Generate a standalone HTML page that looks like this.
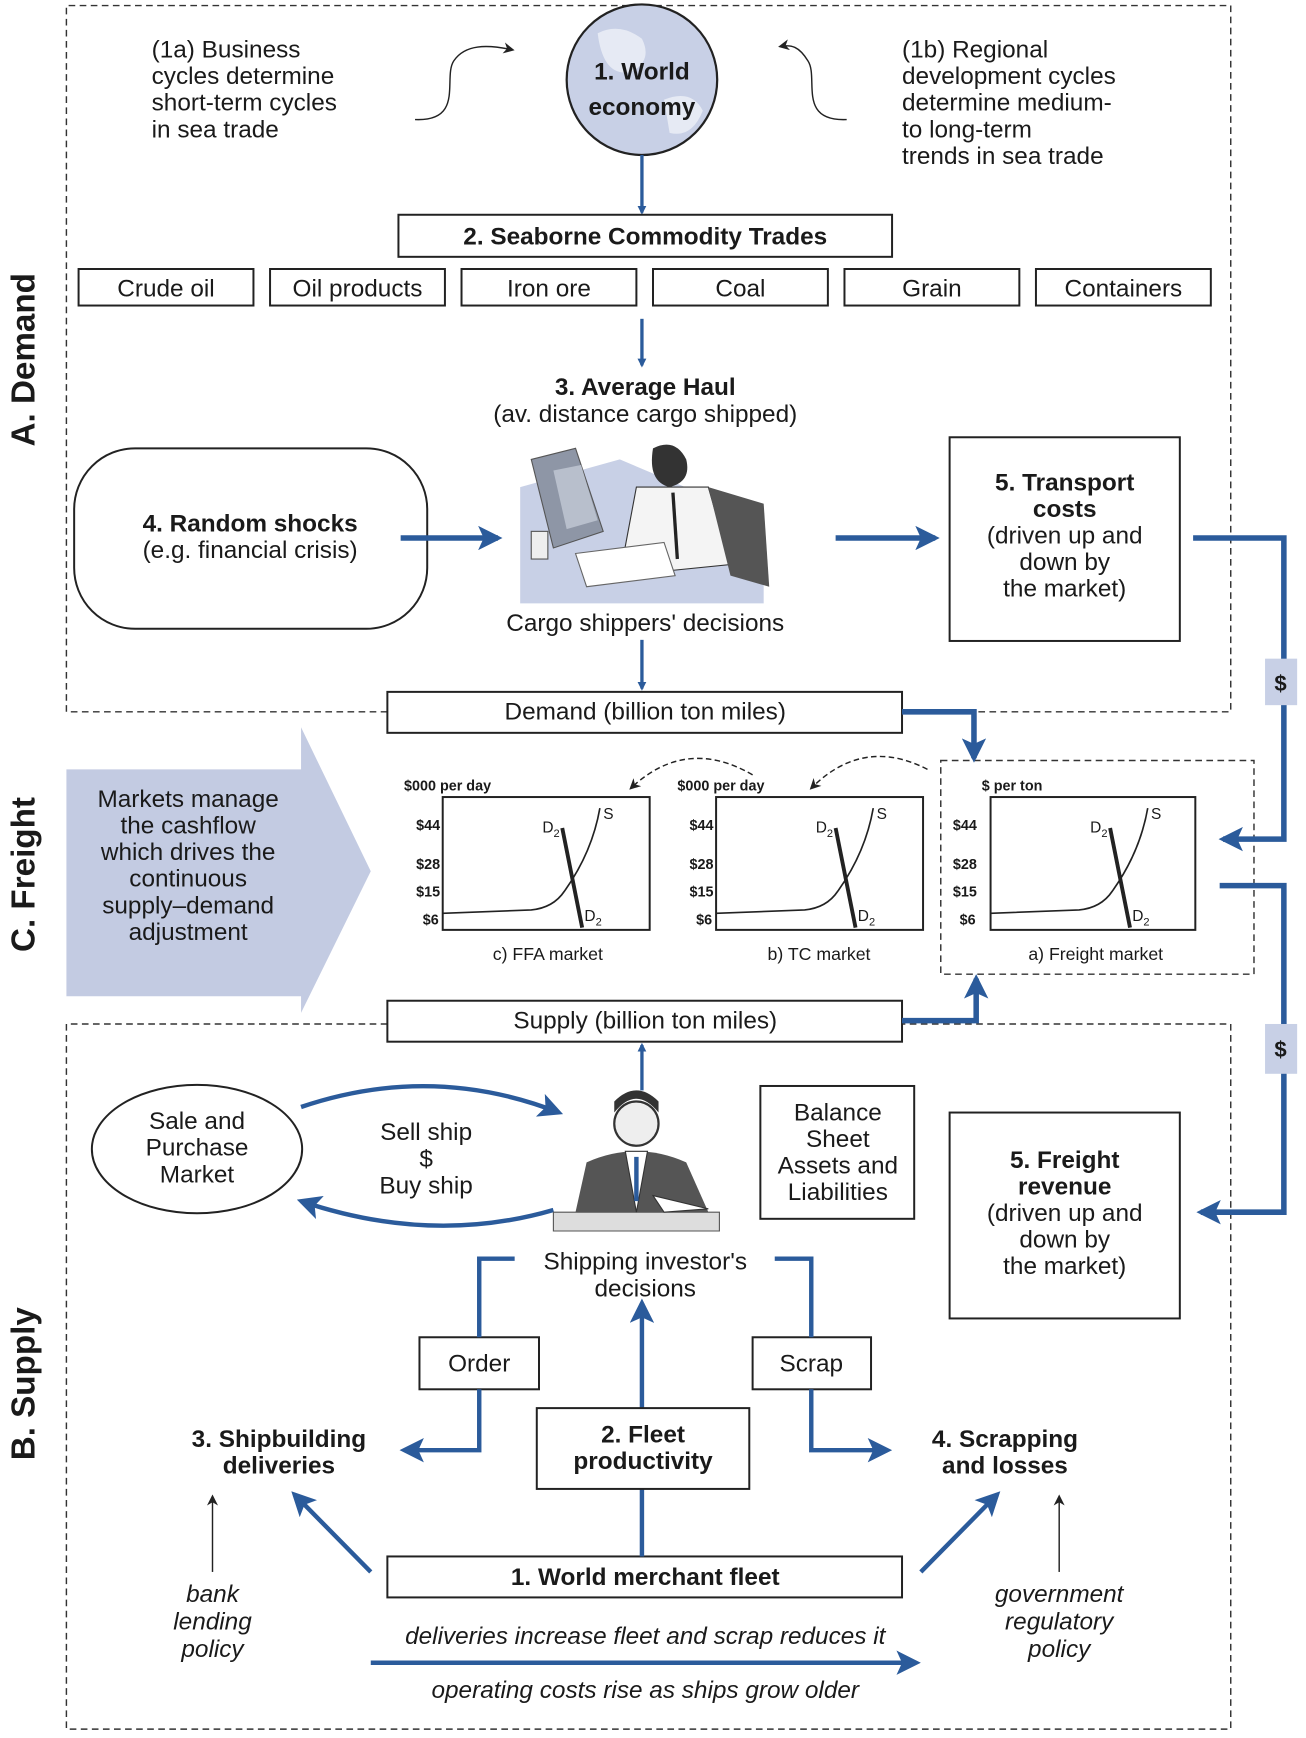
<!DOCTYPE html>
<html><head><meta charset="utf-8"><style>
html,body{margin:0;padding:0;background:#fff}
svg{display:block}
text{font-family:"Liberation Sans",Arial,sans-serif;fill:#1a1a1a}
.b{font-weight:bold}
.i{font-style:italic}
</style></head><body>
<svg width="1306" height="1738" viewBox="0 0 1180 1570" preserveAspectRatio="none" xmlns="http://www.w3.org/2000/svg">
<defs>
<marker id="ab" markerWidth="8" markerHeight="8" refX="6" refY="4" orient="auto" markerUnits="userSpaceOnUse"><path d="M0,0 L8,4 L0,8 Z" fill="#2b5b9b"/></marker>
<marker id="aB" markerWidth="22" markerHeight="22" refX="18" refY="11" orient="auto" markerUnits="userSpaceOnUse"><path d="M0,0 L22,11 L0,22 L5,11 Z" fill="#2b5b9b"/></marker>
<marker id="ak" markerWidth="10" markerHeight="10" refX="8" refY="5" orient="auto" markerUnits="userSpaceOnUse"><path d="M0,0 L10,5 L0,10 L3,5 Z" fill="#222"/></marker>
</defs>
<g fill="none" stroke="#333" stroke-width="1.3" stroke-dasharray="6,4">
<path d="M350,643 L60,643 L60,5 L1112,5 L1112,643 L815,643"/>
<path d="M350,925 L60,925 L60,1562 L1112,1562 L1112,925 L815,925"/>
<rect x="850" y="687" width="283" height="193"/>
</g>
<g font-size="30" class="b">
<text class="b" transform="translate(31,325) rotate(-90)" text-anchor="middle">A. Demand</text>
<text class="b" transform="translate(31,790) rotate(-90)" text-anchor="middle">C. Freight</text>
<text class="b" transform="translate(31,1250) rotate(-90)" text-anchor="middle">B. Supply</text>
</g>
<!-- globe -->
<ellipse cx="580" cy="72" rx="68" ry="68" fill="#c8d0e6" stroke="#222" stroke-width="2"/>
<path d="M540,30 q20,-10 40,5 q10,20 -10,30 q-25,5 -30,-35z M600,90 q25,-10 35,10 q-10,25 -30,20z" fill="#e6eaf4"/>
<text x="580" y="72" font-size="22" class="b" text-anchor="middle">1. World</text>
<text x="580" y="104" font-size="22" class="b" text-anchor="middle">economy</text>
<path d="M375,108 C420,110 400,70 410,55 C420,40 440,40 463,45" fill="none" stroke="#222" stroke-width="1.3" marker-end="url(#ak)"/>
<path d="M765,108 C720,110 740,70 730,55 C722,42 715,40 705,42" fill="none" stroke="#222" stroke-width="1.3" marker-end="url(#ak)"/>
<g font-size="22">
<text x="137" y="52">(1a) Business</text><text x="137" y="76">cycles determine</text><text x="137" y="100">short-term cycles</text><text x="137" y="124">in sea trade</text>
<text x="815" y="52">(1b) Regional</text><text x="815" y="76">development cycles</text><text x="815" y="100">determine medium-</text><text x="815" y="124">to long-term</text><text x="815" y="148">trends in sea trade</text>
</g>
<g stroke="#2b5b9b" stroke-width="3" fill="none">
<line x1="580" y1="140" x2="580" y2="192" marker-end="url(#ab)"/>
<line x1="580" y1="288" x2="580" y2="330" marker-end="url(#ab)"/>
<line x1="580" y1="578" x2="580" y2="622" marker-end="url(#ab)"/>
<line x1="580" y1="985" x2="580" y2="944" marker-end="url(#ab)"/>
</g>
<g fill="#fff" stroke="#222" stroke-width="1.8">
<rect x="360" y="194" width="446" height="38"/>
<rect x="71" y="243" width="158" height="33"/><rect x="244" y="243" width="158" height="33"/><rect x="417" y="243" width="158" height="33"/>
<rect x="590" y="243" width="158" height="33"/><rect x="763" y="243" width="158" height="33"/><rect x="936" y="243" width="158" height="33"/>
<rect x="67" y="405" width="319" height="163" rx="55"/>
<rect x="858" y="395" width="208" height="184"/>
<rect x="350" y="625" width="465" height="37"/>
<rect x="350" y="904" width="465" height="37"/>
<ellipse cx="178" cy="1038" rx="95" ry="58"/>
<rect x="687" y="981" width="139" height="120"/>
<rect x="858" y="1005" width="208" height="186"/>
<rect x="379" y="1208" width="108" height="47"/>
<rect x="680" y="1208" width="107" height="47"/>
<rect x="350" y="1406" width="465" height="37"/>
</g>
<g font-size="22" text-anchor="middle">
<text x="583" y="221" class="b">2. Seaborne Commodity Trades</text>
<text x="150" y="268">Crude oil</text><text x="323" y="268">Oil products</text><text x="496" y="268">Iron ore</text>
<text x="669" y="268">Coal</text><text x="842" y="268">Grain</text><text x="1015" y="268">Containers</text>
<text x="583" y="357" class="b">3. Average Haul</text>
<text x="583" y="381">(av. distance cargo shipped)</text>
<text x="226" y="480" class="b">4. Random shocks</text>
<text x="226" y="504">(e.g. financial crisis)</text>
<text x="583" y="570">Cargo shippers' decisions</text>
<text x="962" y="443" class="b">5. Transport</text><text x="962" y="467" class="b">costs</text>
<text x="962" y="491">(driven up and</text><text x="962" y="515">down by</text><text x="962" y="539">the market)</text>
<text x="583" y="650">Demand (billion ton miles)</text>
<text x="583" y="929">Supply (billion ton miles)</text>
<text x="178" y="1020">Sale and</text><text x="178" y="1044">Purchase</text><text x="178" y="1068">Market</text>
<text x="385" y="1030">Sell ship</text><text x="385" y="1054">$</text><text x="385" y="1078">Buy ship</text>
<text x="757" y="1012">Balance</text><text x="757" y="1036">Sheet</text><text x="757" y="1060">Assets and</text><text x="757" y="1084">Liabilities</text>
<text x="962" y="1055" class="b">5. Freight</text><text x="962" y="1079" class="b">revenue</text>
<text x="962" y="1103">(driven up and</text><text x="962" y="1127">down by</text><text x="962" y="1151">the market)</text>
<text x="583" y="1147">Shipping investor's</text><text x="583" y="1171">decisions</text>
<text x="433" y="1239">Order</text><text x="733" y="1239">Scrap</text>
<text x="252" y="1307" class="b">3. Shipbuilding</text><text x="252" y="1331" class="b">deliveries</text>
<text x="908" y="1307" class="b">4. Scrapping</text><text x="908" y="1331" class="b">and losses</text>
<text x="583" y="1432" class="b">1. World merchant fleet</text>
<text x="192" y="1447" class="i">bank</text><text x="192" y="1472" class="i">lending</text><text x="192" y="1497" class="i">policy</text>
<text x="957" y="1447" class="i">government</text><text x="957" y="1472" class="i">regulatory</text><text x="957" y="1497" class="i">policy</text>
<text x="583" y="1485" class="i">deliveries increase fleet and scrap reduces it</text>
<text x="583" y="1534" class="i">operating costs rise as ships grow older</text>
</g>
<!-- thick blue connectors -->
<g stroke="#2b5b9b" stroke-width="5" fill="none">
<line x1="362" y1="486" x2="450" y2="486" marker-end="url(#aB)"/>
<line x1="755" y1="486" x2="845" y2="486" marker-end="url(#aB)"/>
<path d="M1078,486 L1160,486 L1160,758 L1105,758" marker-end="url(#aB)"/>
<path d="M1102,800 L1160,800 L1160,1095 L1085,1095" marker-end="url(#aB)"/>
<path d="M815,643 L880,643 L880,685" marker-end="url(#aB)"/>
<path d="M815,922 L882,922 L882,884" marker-end="url(#aB)"/>
<path d="M272,1000 Q390,960 505,1005" stroke-width="4" marker-end="url(#aB)"/>
<path d="M500,1093 Q390,1125 272,1085" stroke-width="4" marker-end="url(#aB)"/>
<path d="M465,1137 L433,1137 L433,1208 M433,1255 L433,1310 L365,1310" stroke-width="4" marker-end="url(#aB)"/>
<path d="M700,1137 L733,1137 L733,1208 M733,1255 L733,1310 L802,1310" stroke-width="4" marker-end="url(#aB)"/>
<line x1="580" y1="1406" x2="580" y2="1177" stroke-width="4" marker-end="url(#aB)"/>
<line x1="335" y1="1420" x2="266" y2="1350" stroke-width="4" marker-end="url(#aB)"/>
<line x1="832" y1="1420" x2="901" y2="1350" stroke-width="4" marker-end="url(#aB)"/>
<line x1="335" y1="1502" x2="828" y2="1502" stroke-width="4" marker-end="url(#aB)"/>
</g>
<rect x="485" y="1272" width="192" height="73" fill="#fff" stroke="#222" stroke-width="1.8"/>
<text x="581" y="1303" font-size="22" class="b" text-anchor="middle">2. Fleet</text>
<text x="581" y="1327" font-size="22" class="b" text-anchor="middle">productivity</text>
<g stroke="#222" stroke-width="1.3" fill="none">
<line x1="192" y1="1420" x2="192" y2="1352" marker-end="url(#ak)"/>
<line x1="957" y1="1420" x2="957" y2="1352" marker-end="url(#ak)"/>
</g>
<rect x="1143" y="595" width="29" height="42" fill="#c8d0e6"/>
<text x="1157" y="624" font-size="20" class="b" text-anchor="middle">$</text>
<rect x="1143" y="925" width="29" height="45" fill="#c8d0e6"/>
<text x="1157" y="955" font-size="20" class="b" text-anchor="middle">$</text>
<!-- big freight arrow -->
<path d="M60,695 L272,695 L272,657 L335,787 L272,915 L272,900 L60,900 Z" fill="#c3cbe2"/>
<g font-size="22" text-anchor="middle">
<text x="170" y="729">Markets manage</text><text x="170" y="753">the cashflow</text><text x="170" y="777">which drives the</text>
<text x="170" y="801">continuous</text><text x="170" y="825">supply–demand</text><text x="170" y="849">adjustment</text>
</g>
<!-- charts -->
<g id="c1">
<g font-size="13" class="b">
<text x="365" y="714">$000 per day</text>
<text x="376" y="750">$44</text><text x="376" y="785">$28</text><text x="376" y="810">$15</text><text x="382" y="835">$6</text>
</g>
<rect x="400" y="720" width="187" height="120" fill="none" stroke="#222" stroke-width="1.8"/>
<path d="M400,825 L480,822 Q500,820 510,805 Q535,770 542,730" fill="none" stroke="#222" stroke-width="1.5"/>
<line x1="508" y1="748" x2="526" y2="838" stroke="#222" stroke-width="3.5"/>
<text x="490" y="752" font-size="14">D<tspan font-size="10" dy="4">2</tspan></text>
<text x="545" y="740" font-size="14">S</text>
<text x="528" y="832" font-size="14">D<tspan font-size="10" dy="4">2</tspan></text>
<text x="495" y="867" font-size="16" text-anchor="middle">c) FFA market</text>
</g>
<use href="#c1" x="247"/>
<g>
<g font-size="13" class="b">
<text x="887" y="714">$  per ton</text>
<text x="861" y="750">$44</text><text x="861" y="785">$28</text><text x="861" y="810">$15</text><text x="867" y="835">$6</text>
</g>
<rect x="895" y="720" width="185" height="120" fill="none" stroke="#222" stroke-width="1.8"/>
<path d="M895,825 L975,822 Q995,820 1005,805 Q1030,770 1037,730" fill="none" stroke="#222" stroke-width="1.5"/>
<line x1="1003" y1="748" x2="1021" y2="838" stroke="#222" stroke-width="3.5"/>
<text x="985" y="752" font-size="14">D<tspan font-size="10" dy="4">2</tspan></text>
<text x="1040" y="740" font-size="14">S</text>
<text x="1023" y="832" font-size="14">D<tspan font-size="10" dy="4">2</tspan></text>
<text x="990" y="867" font-size="16" text-anchor="middle">a) Freight market</text>
</g>
<rect x="643" y="850" width="10" height="20" fill="#fff"/>
<text x="740" y="867" font-size="16" text-anchor="middle" fill="#fff" stroke="#fff" stroke-width="6">c) FFA market</text>
<text x="740" y="867" font-size="16" text-anchor="middle">b) TC market</text>
<g stroke="#222" stroke-width="1.3" fill="none" stroke-dasharray="5,3">
<path d="M680,700 Q620,665 570,712" marker-end="url(#ak)"/>
<path d="M838,695 Q780,665 733,712" marker-end="url(#ak)"/>
</g>
<!-- cargo shipper clip art -->
<g>
<path d="M470,440 L560,415 L690,470 L690,545 L470,545 Z" fill="#c8d0e6"/>
<path d="M480,415 L520,405 L545,480 L500,495 Z" fill="#8e96a6" stroke="#555"/>
<path d="M500,425 L525,420 L540,470 L512,478 Z" fill="#b8bfcc"/>
<path d="M590,405 q20,-10 30,10 q5,20 -15,25 q-20,-5 -15,-35z" fill="#333"/>
<path d="M575,440 L640,440 L660,510 L560,520 Z" fill="#f4f4f4" stroke="#333"/>
<path d="M640,440 L690,455 L695,530 L660,520 Z" fill="#555"/>
<line x1="608" y1="445" x2="612" y2="505" stroke="#222" stroke-width="3"/>
<path d="M520,500 L600,490 L610,520 L530,530 Z" fill="#fff" stroke="#666"/>
<rect x="480" y="480" width="15" height="25" fill="#eee" stroke="#555"/>
</g>
<!-- businessman clip art -->
<g>
<path d="M500,1095 L650,1095 L650,1112 L500,1112 Z" fill="#ddd" stroke="#555"/>
<circle cx="575" cy="1015" r="20" fill="#eee" stroke="#333" stroke-width="2"/>
<path d="M555,1005 q20,-25 40,0 l0,-10 q-20,-20 -40,0z" fill="#333"/>
<path d="M520,1095 L530,1050 Q575,1030 620,1050 L640,1095 Z" fill="#555"/>
<path d="M565,1040 L575,1095 L585,1040 Z" fill="#fff" stroke="#333"/>
<line x1="575" y1="1045" x2="575" y2="1085" stroke="#2b5b9b" stroke-width="4"/>
<path d="M590,1080 L640,1092 L600,1095 Z" fill="#fff" stroke="#333"/>
</g>
</svg>
</body></html>
